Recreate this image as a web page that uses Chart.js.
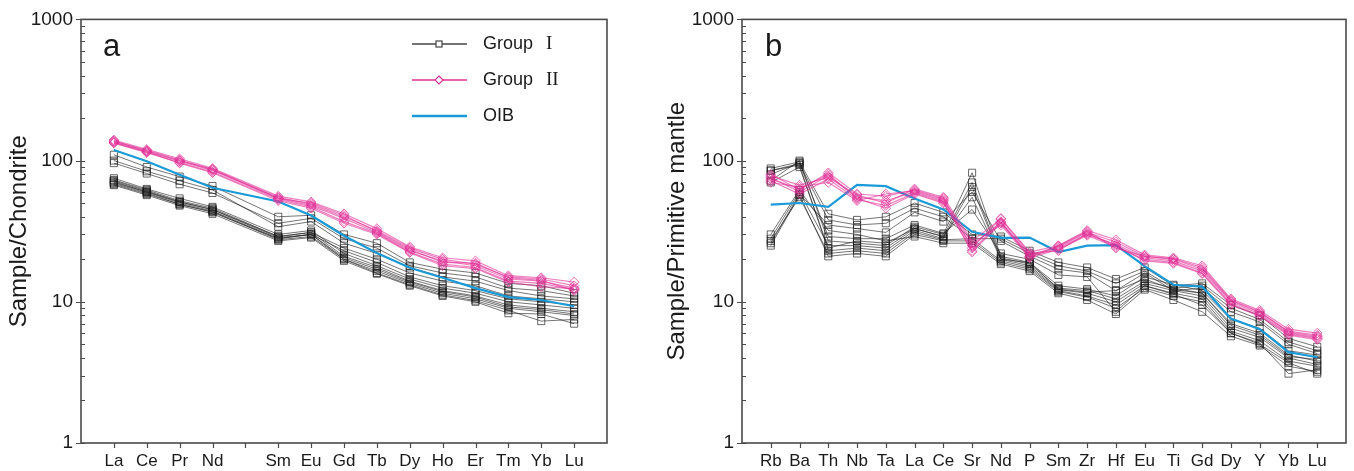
<!DOCTYPE html>
<html>
<head>
<meta charset="utf-8">
<script src="https://cdn.jsdelivr.net/npm/chart.js@4.4.1/dist/chart.umd.min.js"></script>
<style>
  html, body { margin: 0; padding: 0; background: #fff; }
  #wrap { position: relative; width: 1354px; height: 471px; overflow: hidden; }
  canvas { position: absolute; top: 0; }
  #cA { left: 0; }
  #cB { left: 640px; }
</style>
</head>
<body>
<div id="wrap">
  <canvas id="cA" width="640" height="471"></canvas>
  <canvas id="cB" width="714" height="471"></canvas>
</div>
<script>
// ---------- Panel a: chondrite-normalised REE ----------
// Empty label marks the Pm slot (no data, tick only)
const reeLabels = ['La','Ce','Pr','Nd','','Sm','Eu','Gd','Tb','Dy','Ho','Er','Tm','Yb','Lu'];

const reeGroupI = [
  [110, 90, 77, 66, null, 40, 41, 30, 26, 19, 17, 16, 13.5, 13, 11.5],
  [96, 81, 68, 59, null, 36, 39, 28, 24, 18, 16, 15, 12.5, 12, 11],
  [100, 84, 72, 62, null, 34, 37, 26, 22, 17.5, 15, 14, 12, 11, 10.5],
  [75, 63, 54, 47, null, 30, 32, 22, 18, 14.5, 12.5, 11.5, 10, 9.5, 9],
  [73, 62, 52, 46, null, 29, 31, 21, 17.5, 14, 12, 11, 9.5, 9, 8.5],
  [72, 61, 51, 45, null, 28.5, 30, 20.5, 17, 13.8, 11.8, 10.8, 9.2, 8.8, 8.2],
  [70, 60, 50, 44, null, 28, 30, 20, 16.5, 13.5, 11.5, 10.5, 9, 8.5, 8],
  [69, 59, 49, 43.5, null, 27.5, 29, 20, 16, 13.2, 11.2, 10.2, 8.7, 7.3, 7.5],
  [67, 57, 48, 42, null, 27, 28.5, 19.5, 15.8, 13, 11, 10, 8.3, 8.2, 7],
  [71, 60, 51, 45, null, 29, 31, 24, 20, 16, 14, 13, 11, 10.5, 10],
  [68, 58, 49, 43, null, 28, 30, 23, 19, 15, 13, 12, 10.5, 10, 9.5]
];

const reeGroupII = [
  [140, 120, 103, 88, null, 56, 51, 42, 33, 24.5, 20.5, 19.5, 15.3, 14.8, 13.8],
  [137, 118, 101, 86, null, 55, 49, 40, 32, 24, 20, 18.5, 15, 14.5, 13],
  [135, 116, 99, 85, null, 54, 48, 39, 31, 23, 19.5, 18, 14.5, 14, 12.5],
  [133, 114, 97, 83, null, 53, 47, 37, 30.5, 22.5, 18.5, 17.5, 14, 13.5, 12.2],
  [138, 117, 100, 87, null, 54, 50, 41, 31.5, 23.5, 19, 18.8, 14.8, 14.2, 12],
  [134, 115, 96, 82, null, 52, 46, 36, 30, 22.3, 18, 17.2, 13.8, 12.8, 12.4]
];

const reeOIB = [119, 99, 79.5, 64.2, null, 51.3, 40.8, 29.4, 22.2, 17.4, 14.8, 12.5, 10.8, 10.3, 9.3];

// ---------- Panel b: primitive-mantle-normalised trace elements ----------
const traceLabels = ['Rb','Ba','Th','Nb','Ta','La','Ce','Sr','Nd','P','Sm','Zr','Hf','Eu','Ti','Gd','Dy','Y','Yb','Lu'];

const traceGroupI = [
  [88, 98, 42, 38, 40, 50, 43, 30, 29, 23, 19, 17.5, 14.5, 17.5, 13, 13.5, 9.5, 8, 5.5, 4.8],
  [85, 95, 38, 35, 36, 46, 40, 28, 28, 22, 18, 16.5, 13.5, 16.5, 12.5, 13, 9, 7.5, 5.2, 4.5],
  [26, 58, 35, 33, 31, 43, 37, 60, 27, 21, 17, 16, 12, 16, 12, 12.5, 8.5, 7.2, 5, 4.3],
  [72, 100, 27, 26, 25, 34, 30, 82, 21, 19, 13, 12.3, 11, 15, 13.2, 12, 7.5, 6.5, 4.5, 4.2],
  [28, 60, 25, 25, 24, 33, 29, 70, 20.5, 18.5, 12.5, 12, 10.5, 14, 12.5, 11.5, 7, 6, 4.2, 3.8],
  [85, 93, 23, 24, 23, 32, 28, 65, 20, 18, 12.2, 11.5, 10, 13.5, 12, 11, 6.5, 5.6, 4, 3.6],
  [27, 55, 22, 23, 22, 31, 27.5, 28, 19.5, 17.5, 12, 11, 9.5, 13, 11.5, 10.5, 6.2, 5.3, 3.8, 3.5],
  [25, 57, 21, 22, 21, 30, 27, 27, 19, 17, 11.8, 10.8, 9, 12.5, 11, 10, 6, 5.1, 3.1, 3.3],
  [70, 90, 24, 27, 26, 33, 29, 55, 20, 19, 12.3, 11.7, 12, 14.5, 12.2, 11.5, 6.8, 5.8, 4.1, 3.9],
  [80, 96, 29, 28, 28, 35, 30.5, 45, 22, 20, 15.5, 15, 8.5, 13, 11.3, 9.5, 6, 5, 3.7, 3.1],
  [30, 62, 32, 30, 27, 29, 26, 26, 18.5, 16.5, 11.5, 10.3, 8.2, 12.2, 10.3, 8.5, 5.7, 4.9, 3.5, 3.2]
];

const traceGroupII = [
  [80, 62, 82, 58, 56, 62, 54, 24, 39, 22.5, 25, 32, 27.5, 21.5, 20.5, 18, 10.5, 8.7, 6.4, 6.0],
  [76, 60, 78, 55, 52, 60, 52, 23, 37, 21.5, 24.5, 31, 26.5, 21, 20, 17, 10.2, 8.4, 6.2, 5.8],
  [72, 58, 74, 53, 48, 59, 51, 22.5, 36, 21, 24, 30, 25.5, 20.5, 19.5, 16.5, 10, 8.2, 6.0, 5.6],
  [70, 65, 70, 52, 58, 61, 53, 26, 35, 20.5, 23.5, 29.5, 24.5, 20, 19, 16, 9.7, 8, 5.9, 5.5],
  [78, 67, 76, 57, 50, 63, 55, 27, 38.5, 22, 23, 30.5, 25, 19.5, 18.7, 15.8, 9.5, 7.9, 5.8, 5.4],
  [74, 63, 80, 54, 46, 58, 50, 25, 36.5, 20.8, 24.8, 31.5, 24, 21, 20.2, 17.5, 10.3, 8.5, 6.1, 5.7]
];

const traceOIB = [48.8, 50.1, 47.1, 67.3, 65.9, 53.9, 45.1, 31.3, 28.4, 28.5, 22.5, 25.0, 25.2, 17.9, 13.2, 12.8, 7.6, 6.4, 4.4, 4.05];

const yTickValues = [1, 10, 100, 1000];

// ---------- styling ----------
const SANS = '"Liberation Sans", Arial, Helvetica, sans-serif';
const SERIF = '"Liberation Serif", "Times New Roman", serif';
const AXIS = '#4a4a4a';
const TEXT = '#1a1a1a';
const BLACK_LINE = 'rgba(25,25,25,0.6)';
const BLACK_PT = 'rgba(25,25,25,0.65)';
const PINK_LINE = 'rgba(225,45,150,0.6)';
const PINK_PT = 'rgba(225,45,150,0.7)';
const BLUE = '#1b9ad8';

Chart.defaults.font.family = SANS;
Chart.defaults.color = TEXT;

function toPoints(vals) {
  return vals.map((v, i) => ({ x: i, y: v }));
}

function buildDatasets(groupI, groupII, oib) {
  const ds = [];
  // first dataset is painted last (on top)
  groupII.forEach((vals, k) => ds.push({
    label: 'Group II ' + (k + 1),
    data: toPoints(vals),
    borderColor: PINK_LINE,
    borderWidth: 1.2,
    pointStyle: 'rectRot',
    pointRadius: 4.8,
    pointBorderColor: PINK_PT,
    pointBackgroundColor: 'rgba(0,0,0,0)',
    pointBorderWidth: 1,
    spanGaps: true,
    tension: 0
  }));
  ds.push({
    label: 'OIB',
    data: toPoints(oib),
    borderColor: BLUE,
    borderWidth: 2.2,
    pointRadius: 0,
    spanGaps: true,
    tension: 0
  });
  groupI.forEach((vals, k) => ds.push({
    label: 'Group I ' + (k + 1),
    data: toPoints(vals),
    borderColor: BLACK_LINE,
    borderWidth: 1,
    pointStyle: 'rect',
    pointRadius: 5,
    pointBorderColor: BLACK_PT,
    pointBackgroundColor: 'rgba(0,0,0,0)',
    pointBorderWidth: 1,
    spanGaps: true,
    tension: 0
  }));
  return ds;
}

// frame, tick marks, axis title, panel letter
function framePlugin(title, letter, letterX) {
  return {
    id: 'frame',
    afterDraw(chart) {
      const ctx = chart.ctx;
      const { left, right, top, bottom } = chart.chartArea;
      const xs = chart.scales.x, ys = chart.scales.y;
      ctx.save();
      ctx.strokeStyle = AXIS;
      ctx.lineWidth = 1.6;
      ctx.strokeRect(left, top, right - left, bottom - top);
      ctx.lineWidth = 1.2;
      ctx.beginPath();
      // x ticks (outward)
      xs.ticks.forEach(t => {
        const px = Math.round(xs.getPixelForValue(t.value)) + 0.5;
        ctx.moveTo(px, bottom);
        ctx.lineTo(px, bottom + 5);
      });
      // y major ticks (crossing) and minor ticks (inward)
      for (let d = 1; d <= 1000; d *= 10) {
        const py = Math.round(ys.getPixelForValue(d)) + 0.5;
        ctx.moveTo(left - 5, py);
        ctx.lineTo(left + 4, py);
        if (d < 1000) {
          for (let m = 2; m <= 9; m++) {
            const pm = Math.round(ys.getPixelForValue(d * m)) + 0.5;
            ctx.moveTo(left, pm);
            ctx.lineTo(left + 4, pm);
          }
        }
      }
      ctx.stroke();

      // axis title
      ctx.fillStyle = TEXT;
      ctx.font = '24px ' + SANS;
      ctx.textAlign = 'center';
      ctx.textBaseline = 'middle';
      ctx.save();
      ctx.translate(title.x, (top + bottom) / 2);
      ctx.rotate(-Math.PI / 2);
      ctx.fillText(title.text, 0, 0);
      ctx.restore();

      // panel letter
      ctx.font = '31px ' + SANS;
      ctx.textAlign = 'left';
      ctx.textBaseline = 'middle';
      ctx.fillText(letter, letterX, 47);
      ctx.restore();
    }
  };
}

const legendPlugin = {
  id: 'groupLegend',
  afterDraw(chart) {
    const ctx = chart.ctx;
    const x0 = 412, x1 = 467, mid = 439, tx = 483, romanX = 546;
    const rows = [
      { y: 44, color: '#444', width: 1.3, marker: 'square', name: 'Group', roman: 'I' },
      { y: 80, color: '#e0309a', width: 1.5, marker: 'diamond', name: 'Group', roman: 'II' },
      { y: 116, color: BLUE, width: 2.5, marker: null, name: 'OIB', roman: '' }
    ];
    ctx.save();
    rows.forEach(r => {
      ctx.strokeStyle = r.color;
      ctx.lineWidth = r.width;
      ctx.beginPath();
      ctx.moveTo(x0, r.y);
      ctx.lineTo(x1, r.y);
      ctx.stroke();
      ctx.lineWidth = 1.2;
      if (r.marker === 'square') {
        ctx.fillStyle = '#fff';
        ctx.fillRect(mid - 3, r.y - 3, 6, 6);
        ctx.strokeRect(mid - 3, r.y - 3, 6, 6);
      } else if (r.marker === 'diamond') {
        ctx.fillStyle = '#fff';
        ctx.beginPath();
        ctx.moveTo(mid, r.y - 4);
        ctx.lineTo(mid + 4, r.y);
        ctx.lineTo(mid, r.y + 4);
        ctx.lineTo(mid - 4, r.y);
        ctx.closePath();
        ctx.fill();
        ctx.stroke();
      }
      ctx.fillStyle = TEXT;
      ctx.textBaseline = 'middle';
      ctx.textAlign = 'left';
      ctx.font = '18px ' + SANS;
      ctx.fillText(r.name, tx, r.y);
      if (r.roman) {
        ctx.font = '19px ' + SERIF;
        ctx.fillText(r.roman, romanX, r.y);
      }
    });
    ctx.restore();
  }
};

function makeChart(canvasId, labels, groupI, groupII, oib, opts) {
  const plugins = [framePlugin(opts.title, opts.letter, opts.letterX)];
  if (opts.legend) plugins.push(legendPlugin);
  return new Chart(document.getElementById(canvasId), {
    type: 'line',
    data: { datasets: buildDatasets(groupI, groupII, oib) },
    plugins: plugins,
    options: {
      responsive: false,
      animation: false,
      devicePixelRatio: 1,
      events: [],
      layout: { padding: { top: 16, right: opts.rightPad, left: 0, bottom: 0 } },
      plugins: { legend: { display: false }, tooltip: { enabled: false } },
      scales: {
        x: {
          type: 'linear',
          min: -1,
          max: labels.length,
          grid: { display: false, drawTicks: false },
          border: { display: false },
          afterBuildTicks: s => { s.ticks = labels.map((_, i) => ({ value: i })); },
          afterFit: s => { s.height = 28; },
          ticks: {
            autoSkip: false,
            maxRotation: 0,
            padding: 8,
            color: TEXT,
            font: { size: 17, family: SANS },
            callback: v => labels[v]
          }
        },
        y: {
          type: 'logarithmic',
          min: 1,
          max: 1000,
          grid: { display: false, drawTicks: false },
          border: { display: false },
          afterBuildTicks: s => { s.ticks = yTickValues.map(v => ({ value: v })); },
          afterFit: s => { s.width = opts.yWidth; },
          ticks: {
            padding: 8,
            color: TEXT,
            font: { size: 19, family: SANS },
            callback: v => String(v)
          }
        }
      }
    }
  });
}

makeChart('cA', reeLabels, reeGroupI, reeGroupII, reeOIB, {
  yWidth: 81, rightPad: 33,
  title: { text: 'Sample/Chondrite', x: 19 },
  letter: 'a', letterX: 103, legend: true
});

makeChart('cB', traceLabels, traceGroupI, traceGroupII, traceOIB, {
  yWidth: 102, rightPad: 8,
  title: { text: 'Sample/Primitive mantle', x: 37 },
  letter: 'b', letterX: 125, legend: false
});
</script>
</body>
</html>
